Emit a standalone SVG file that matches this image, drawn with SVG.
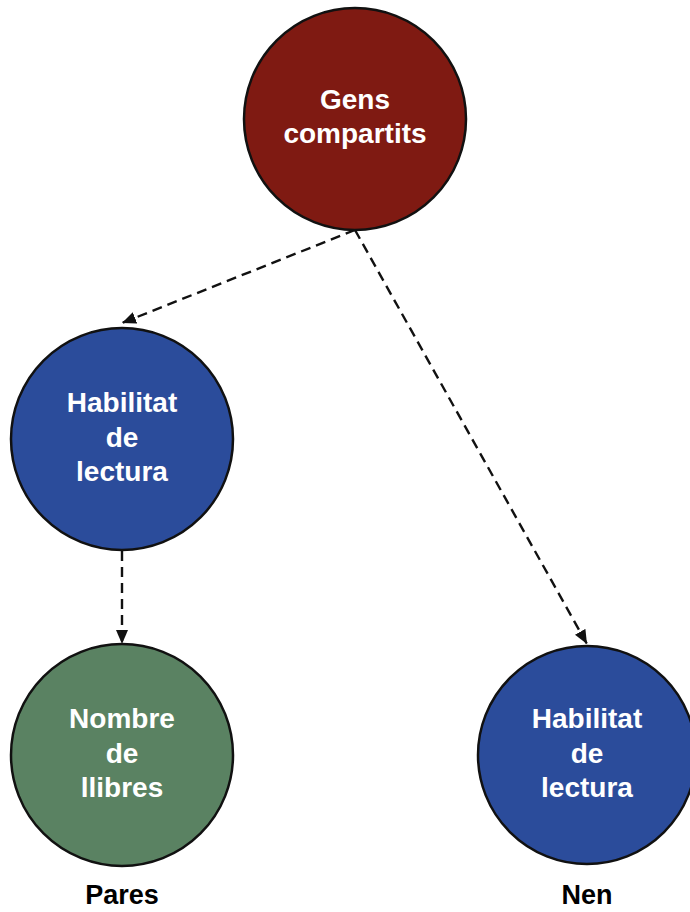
<svg xmlns="http://www.w3.org/2000/svg" width="690" height="912" viewBox="0 0 690 912">
  <defs>
    <marker id="arrow" viewBox="0 0 14 12" refX="14" refY="6" markerWidth="14" markerHeight="12" markerUnits="userSpaceOnUse" orient="auto">
      <path d="M0,0 L14,6 L0,12 Z" fill="#111"/>
    </marker>
    <style>
      .node { stroke: #111; stroke-width: 2.5; }
      .label { font-family: "Liberation Sans", Arial, sans-serif; font-weight: bold; font-size: 28px; fill: #ffffff; text-anchor: middle; }
      .caption { font-family: "Liberation Sans", Arial, sans-serif; font-weight: bold; font-size: 27px; fill: #000000; text-anchor: middle; }
      .edge { stroke: #111; stroke-width: 2.4; stroke-dasharray: 10 6; fill: none; }
    </style>
  </defs>
  <rect width="690" height="912" fill="#ffffff"/>

  <g id="connectors">
    <line class="edge" x1="355" y1="230" x2="122" y2="323" marker-end="url(#arrow)"/>
    <line class="edge" x1="355" y1="230" x2="587" y2="644" marker-end="url(#arrow)"/>
    <line class="edge" x1="122" y1="551" x2="122" y2="644" marker-end="url(#arrow)"/>
  </g>

  <g id="gens-compartits">
    <circle class="node" cx="355" cy="119" r="111" fill="#7F1A12"/>
    <text class="label" x="355" y="109">Gens</text>
    <text class="label" x="355" y="143">compartits</text>
  </g>

  <g id="habilitat-pares">
    <circle class="node" cx="122" cy="439" r="111" fill="#2B4C9B"/>
    <text class="label" x="122" y="412">Habilitat</text>
    <text class="label" x="122" y="447">de</text>
    <text class="label" x="122" y="481">lectura</text>
  </g>

  <g id="nombre-llibres">
    <circle class="node" cx="122" cy="755" r="111" fill="#5A8262"/>
    <text class="label" x="122" y="728">Nombre</text>
    <text class="label" x="122" y="763">de</text>
    <text class="label" x="122" y="797">llibres</text>
  </g>

  <g id="habilitat-nen">
    <circle class="node" cx="587" cy="755" r="109" fill="#2B4C9B"/>
    <text class="label" x="587" y="728">Habilitat</text>
    <text class="label" x="587" y="763">de</text>
    <text class="label" x="587" y="797">lectura</text>
  </g>

  <g id="captions">
    <text class="caption" x="122" y="904">Pares</text>
    <text class="caption" x="587" y="904">Nen</text>
  </g>
</svg>
